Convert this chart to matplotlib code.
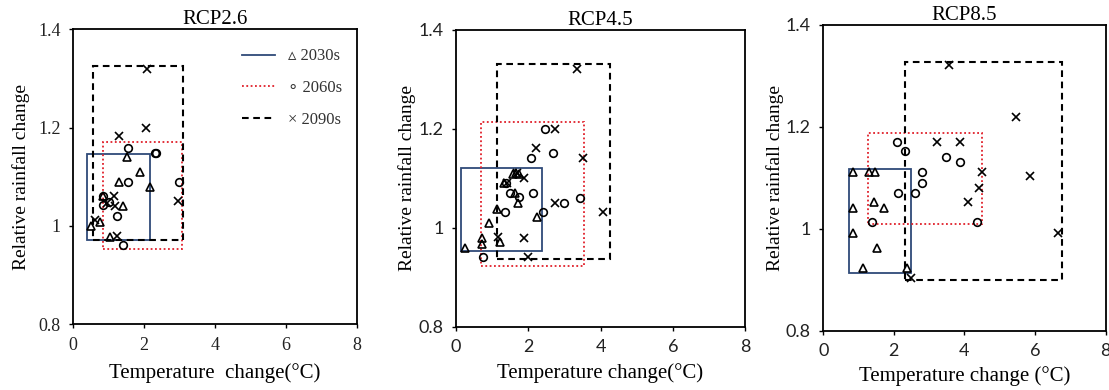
import matplotlib
matplotlib.use("Agg")
import matplotlib.pyplot as plt
from matplotlib.lines import Line2D
from matplotlib.patches import Rectangle

# scenario names
scenarios = ["RCP2.6", "RCP4.5", "RCP8.5"]
periods = ["2030s", "2060s", "2090s"]

# RCP2.6: temperature change (degC) / relative rainfall change
rcp26_2030_t = [1.52, 1.89, 1.30, 2.16, 0.86, 1.40, 1.05, 0.76, 0.51]
rcp26_2030_r = [1.141, 1.109, 1.090, 1.080, 1.061, 1.041, 0.978, 1.009, 1.000]
rcp26_2060_t = [1.55, 2.30, 2.35, 1.56, 2.98, 0.86, 0.86, 1.03, 1.23, 1.42]
rcp26_2060_r = [1.159, 1.149, 1.149, 1.090, 1.090, 1.060, 1.043, 1.049, 1.020, 0.961]
rcp26_2090_t = [2.10, 2.06, 1.29, 2.95, 1.17, 0.95, 1.19, 1.25, 0.62]
rcp26_2090_r = [1.319, 1.200, 1.182, 1.051, 1.061, 1.047, 1.041, 0.980, 1.012]

# RCP4.5
rcp45_2030_t = [1.57, 1.66, 1.75, 1.33, 1.63, 1.71, 1.13, 2.25, 0.91, 1.22, 0.71, 0.71, 0.25]
rcp45_2030_r = [1.109, 1.111, 1.109, 1.090, 1.071, 1.051, 1.039, 1.021, 1.010, 0.972, 0.979, 0.968, 0.960]
rcp45_2060_t = [2.47, 2.68, 2.07, 1.50, 1.75, 2.12, 2.99, 3.42, 1.36, 2.42, 0.76, 1.39]
rcp45_2060_r = [1.200, 1.151, 1.141, 1.071, 1.062, 1.071, 1.051, 1.061, 1.031, 1.031, 0.940, 1.090]
rcp45_2090_t = [3.36, 2.74, 2.22, 3.51, 1.68, 1.88, 1.42, 2.74, 4.06, 1.15, 1.88, 2.00]
rcp45_2090_r = [1.322, 1.200, 1.161, 1.141, 1.111, 1.100, 1.090, 1.051, 1.031, 0.981, 0.979, 0.940]

# RCP8.5
rcp85_2030_t = [0.83, 1.30, 1.46, 1.44, 0.85, 1.73, 0.85, 1.51, 1.13, 2.36]
rcp85_2030_r = [1.111, 1.111, 1.111, 1.052, 1.041, 1.041, 0.993, 0.962, 0.923, 0.924]
rcp85_2060_t = [2.08, 2.31, 3.47, 3.87, 2.79, 2.80, 2.11, 2.60, 1.39, 4.36]
rcp85_2060_r = [1.171, 1.152, 1.142, 1.132, 1.111, 1.091, 1.071, 1.071, 1.013, 1.013]
rcp85_2090_t = [3.57, 5.46, 3.21, 3.87, 5.86, 4.49, 4.41, 4.11, 6.66, 2.48]
rcp85_2090_r = [1.322, 1.220, 1.171, 1.171, 1.103, 1.111, 1.081, 1.052, 0.993, 0.903]

# range boxes [tmin, tmax, rmin, rmax]
rcp26_boxes = [[0.40, 2.16, 0.972, 1.146], [0.84, 3.07, 0.953, 1.170], [0.56, 3.09, 0.972, 1.326]]
rcp45_boxes = [[0.14, 2.37, 0.953, 1.120], [0.69, 3.55, 0.923, 1.213], [1.13, 4.25, 0.936, 1.331]]
rcp85_boxes = [[0.73, 2.48, 0.914, 1.118], [1.26, 4.49, 1.010, 1.189], [2.31, 6.77, 0.900, 1.328]]

x_ticks = [0, 2, 4, 6, 8]
y_ticks = [0.8, 1.0, 1.2, 1.4]
y_tick_labels = ["0.8", "1", "1.2", "1.4"]

points = {
    "RCP2.6": [(rcp26_2030_t, rcp26_2030_r), (rcp26_2060_t, rcp26_2060_r), (rcp26_2090_t, rcp26_2090_r)],
    "RCP4.5": [(rcp45_2030_t, rcp45_2030_r), (rcp45_2060_t, rcp45_2060_r), (rcp45_2090_t, rcp45_2090_r)],
    "RCP8.5": [(rcp85_2030_t, rcp85_2030_r), (rcp85_2060_t, rcp85_2060_r), (rcp85_2090_t, rcp85_2090_r)],
}
boxes = {"RCP2.6": rcp26_boxes, "RCP4.5": rcp45_boxes, "RCP8.5": rcp85_boxes}

SERIF = "Liberation Serif"
SANS = "Lato"
markers = ["^", "o", "x"]
marker_sizes = [5.5, 5.5, 5.5]
box_style = [
    dict(edgecolor="#2f4a78", linestyle="-", linewidth=1.3),
    dict(edgecolor="#e0202a", linestyle=(0, (1, 1.4)), linewidth=1.3),
    dict(edgecolor="black", linestyle=(0, (3.2, 2.2)), linewidth=1.5),
]
# axes rectangles in figure fraction
axes_pos = [
    [0.0658, 0.1685, 0.2558, 0.7564],
    [0.4112, 0.1623, 0.2606, 0.7608],
    [0.7424, 0.1513, 0.2545, 0.7846],
]
tick_fonts = [SERIF, SANS, SANS]
ylabel_pads = [6, 2, 1]
xlabel_pads = [7, 6, 5]
xlabels = ["Temperature  change(\u00b0C)", "Temperature change(\u00b0C)", "Temperature change (\u00b0C)"]

fig = plt.figure(figsize=(11.09, 3.90), dpi=100)

for i, name in enumerate(scenarios):
    ax = fig.add_axes(axes_pos[i])
    for k, (xs, ys) in enumerate(points[name]):
        ax.plot(xs, ys, linestyle="none", marker=markers[k], markersize=marker_sizes[k],
                markerfacecolor="none", markeredgecolor="black", markeredgewidth=1.2,
                zorder=3)
    for k, (x0, x1, y0, y1) in enumerate(boxes[name]):
        ax.add_patch(Rectangle((x0, y0), x1 - x0, y1 - y0, fill=False,
                               zorder=2, **box_style[k]))
    ax.set_xlim(0, 8)
    ax.set_ylim(0.8, 1.4)
    ax.set_xticks(x_ticks)
    ax.set_yticks(y_ticks)
    ax.set_yticklabels(y_tick_labels)
    ax.tick_params(direction="out", length=3, width=1, pad=6)
    for lab in ax.get_xticklabels() + ax.get_yticklabels():
        lab.set_fontfamily(tick_fonts[i])
        lab.set_fontsize(13)
        lab.set_color("#222222")
    for sp in ax.spines.values():
        sp.set_linewidth(1.3)
    ax.set_title(name, fontfamily=SERIF, fontsize=15, pad=1)
    ax.set_xlabel(xlabels[i], fontfamily=SERIF, fontsize=15, labelpad=xlabel_pads[i])
    ax.set_ylabel("Relative rainfall change", fontfamily=SERIF, fontsize=14,
                  labelpad=ylabel_pads[i])

    if i == 0:
        handles = [Line2D([], [], color=s["edgecolor"], linestyle=s["linestyle"],
                          linewidth=s["linewidth"]) for s in box_style]
        labels = ["\u25b5 2030s", "\u2218 2060s", "\u00d7 2090s"]
        leg = ax.legend(handles, labels, loc="upper left", bbox_to_anchor=(0.595, 0.935),
                        frameon=False, handlelength=2.0, handletextpad=0.8,
                        labelspacing=0.95, borderpad=0, borderaxespad=0,
                        prop={"family": [SERIF, "DejaVu Sans"], "size": 12})
        for t in leg.get_texts():
            t.set_color("#333333")

fig.savefig("out.png", dpi=100)
